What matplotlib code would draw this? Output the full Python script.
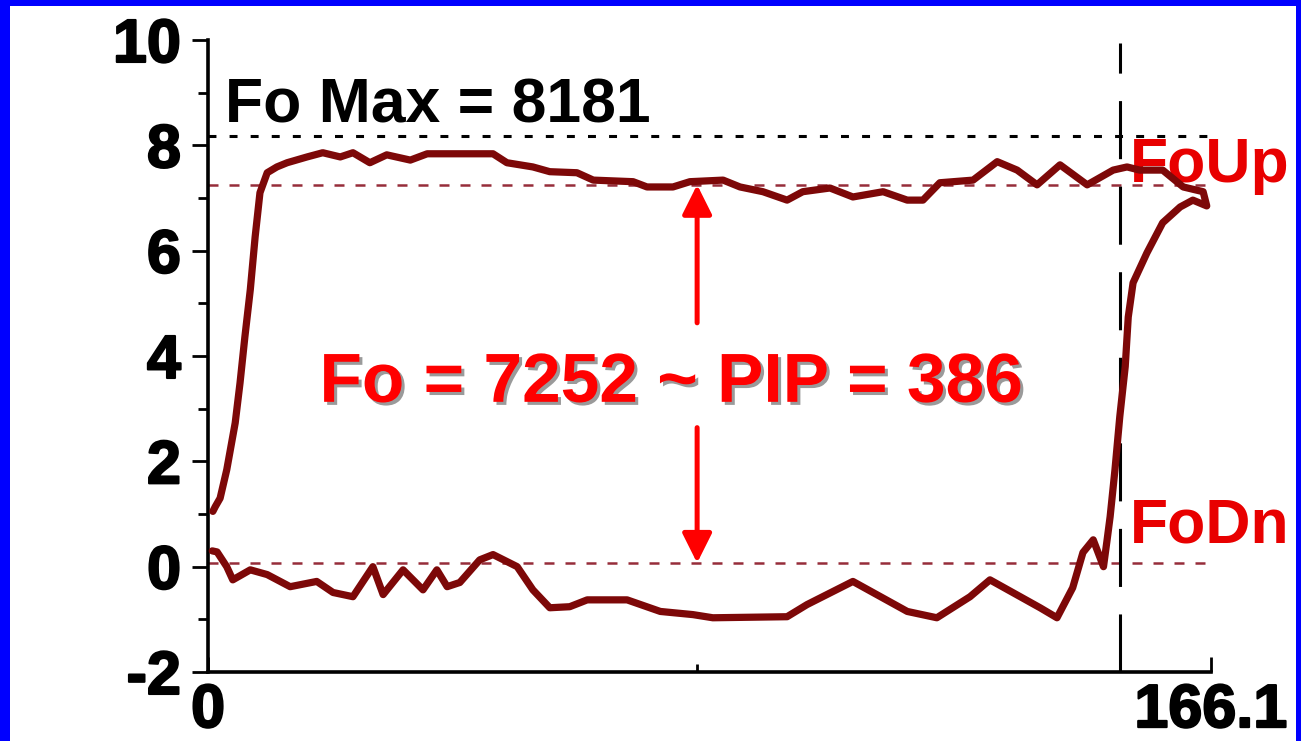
import matplotlib
matplotlib.use('Agg')
import matplotlib.pyplot as plt
import matplotlib.patheffects as pe
from matplotlib.patches import Rectangle

# Force/pressure loop, one cycle (x: time 0..166.1, y: force in thousands)
loop_x = [0.8, 1.2, 2.0, 3.1, 4.5, 5.3, 6.1, 7.0, 7.8, 8.6, 9.8, 11.4, 13.1, 16.4, 19.0,
          21.9, 24.0, 26.8, 29.6, 33.5, 36.3, 47.2, 49.5, 53.8, 56.6, 61.1, 63.8, 70.4,
          72.7, 77.0, 79.8, 85.3, 88.1, 91.9, 95.9, 98.5, 103.0, 106.8, 111.8, 115.8,
          118.4, 121.2, 126.7, 130.7, 134.0, 137.3, 141.1, 145.6, 149.9, 152.2, 154.3,
          158.1, 161.5, 164.8, 165.4, 163.1, 161.0, 158.1, 155.5, 153.2, 152.4, 151.9,
          151.0, 150.2, 149.4, 148.9, 148.3, 146.6, 144.9, 143.2, 140.6, 137.8, 129.5,
          126.2, 120.7, 115.8, 106.8, 99.2, 95.9, 83.6, 80.3, 74.9, 69.4, 62.8, 59.9,
          56.6, 53.8, 51.2, 47.2, 45.0, 41.7, 39.6, 37.9, 35.6, 32.3, 29.0, 27.3, 24.0,
          20.7, 18.0, 13.6, 9.8, 7.0, 4.1, 3.1, 1.5, 0.7]
loop_y = [1.05, 1.14, 1.30, 1.84, 2.73, 3.49, 4.36, 5.26, 6.26, 7.10, 7.48, 7.59, 7.67,
          7.78, 7.86, 7.78, 7.86, 7.67, 7.82, 7.72, 7.84, 7.84, 7.67, 7.59, 7.50, 7.48,
          7.34, 7.31, 7.21, 7.21, 7.31, 7.34, 7.21, 7.12, 6.96, 7.12, 7.19, 7.02, 7.12,
          6.96, 6.96, 7.29, 7.34, 7.69, 7.53, 7.25, 7.63, 7.25, 7.53, 7.59, 7.53, 7.53,
          7.21, 7.12, 6.85, 6.96, 6.83, 6.53, 5.96, 5.39, 4.74, 3.80, 2.85, 1.84, 0.95,
          0.51, 0.00, 0.51, 0.27, -0.40, -0.97, -0.78, -0.25, -0.57, -0.97, -0.85, -0.28,
          -0.72, -0.95, -0.97, -0.91, -0.85, -0.63, -0.63, -0.76, -0.78, -0.44, 0.00,
          0.23, 0.13, -0.30, -0.38, -0.06, -0.44, -0.06, -0.53, 0.00, -0.57, -0.49,
          -0.28, -0.38, -0.15, -0.06, -0.25, 0.00, 0.28, 0.30]

fo_max = 8.181
fo_up = 7.252
fo_dn = 0.07
t_end = 166.1
t_marker = 151.1
t_mid = 81.0

y_ticks = [-2, 0, 2, 4, 6, 8, 10]
y_minor = [-1, 1, 3, 5, 7, 9]
x_ticks = [0, t_end]
x_tick_labels = ['0', '166.1']

LOOP_COLOR = '#7d0808'
DASH_RED = '#962d3a'


def main():
    plt.rcParams['font.family'] = ['Liberation Sans', 'DejaVu Sans']
    plt.rcParams['font.weight'] = 'bold'

    fig = plt.figure(figsize=(13.01, 7.41), dpi=100)
    fig.patch.set_facecolor('white')
    ax = fig.add_axes([0.1599, 0.0931, 0.9308 - 0.1599, 0.946 - 0.0931])

    # blue frame around the picture
    W, H = 1301, 741
    for (x0, y0, w, h) in [(0, 0, 10, H), (0, H - 6, W, 6), (W - 5, 0, 5, H)]:
        fig.patches.append(Rectangle((x0 / W, y0 / H), w / W, h / H, transform=fig.transFigure,
                                     facecolor='#0000ff', edgecolor='none', zorder=10))

    # reference levels
    ax.plot([0, 165.5], [fo_max, fo_max], color='black', lw=2.2,
            linestyle=(0, (2.6, 4.3)), zorder=2)
    ax.plot([0, 165.7], [fo_up, fo_up], color=DASH_RED, lw=1.8,
            linestyle=(0, (4.0, 4.4)), zorder=2)
    ax.plot([0, 165.7], [fo_dn, fo_dn], color=DASH_RED, lw=1.8,
            linestyle=(0, (4.0, 4.4)), zorder=2)
    ax.plot([t_marker, t_marker], [-2, 9.95], color='black', lw=2.2,
            linestyle=(0, (19, 9)), zorder=2)

    ax.text(152.7, 7.31, 'FoUp', color='#e80000', fontsize=45, fontweight='bold',
            ha='left', va='baseline', zorder=3, clip_on=False)
    ax.text(152.7, 0.46, 'FoDn', color='#e80000', fontsize=45, fontweight='bold',
            ha='left', va='baseline', zorder=3, clip_on=False)

    ax.plot(loop_x, loop_y, color=LOOP_COLOR, lw=5.2, solid_joinstyle='round',
            solid_capstyle='round', zorder=4, clip_on=False)

    ax.text(2.8, 8.44, 'Fo Max = 8181', color='black', fontsize=45, fontweight='bold',
            ha='left', va='baseline', zorder=5)

    # split double arrow between FoDn and FoUp
    head = '-|>,head_length=0.6,head_width=0.3'
    ax.annotate('', xy=(t_mid, fo_up), xytext=(t_mid, 4.63),
                arrowprops=dict(arrowstyle=head, color='#ff0000', lw=3.6,
                                mutation_scale=30, shrinkA=0, shrinkB=0), zorder=5)
    ax.annotate('', xy=(t_mid, fo_dn), xytext=(t_mid, 2.64),
                arrowprops=dict(arrowstyle=head, color='#ff0000', lw=3.6,
                                mutation_scale=30, shrinkA=0, shrinkB=0), zorder=5)

    ax.text(76.7, 3.13, 'Fo = 7252 ~ PIP = 386', color='#ff0000', fontsize=50,
            fontweight='bold', ha='center', va='baseline', zorder=6,
            path_effects=[pe.SimplePatchShadow(offset=(2.2, -2.2), shadow_rgbFace='#9a9a9a',
                                               alpha=1.0),
                          pe.Normal()])

    ax.set_xlim(0, t_end)
    ax.set_ylim(-2, 10)

    for side in ('top', 'right'):
        ax.spines[side].set_visible(False)
    for side in ('left', 'bottom'):
        ax.spines[side].set_linewidth(2.6)

    ax.set_yticks(y_ticks)
    ax.set_yticks(y_minor, minor=True)
    ax.set_yticklabels([str(v) for v in y_ticks])
    ax.tick_params(axis='y', which='major', direction='out', length=11.5, width=2,
                   labelsize=44, pad=8)
    ax.tick_params(axis='y', which='minor', direction='out', length=7, width=2)

    ax.set_xticks(x_ticks)
    ax.set_xticks([t_mid], minor=True)
    ax.set_xticklabels(x_tick_labels)
    ax.tick_params(axis='x', which='major', direction='in', length=11, width=2,
                   labelsize=44, pad=8)
    ax.tick_params(axis='x', which='minor', direction='in', length=6, width=2)
    # heavier digits on the axes
    for lab in ax.get_xticklabels() + ax.get_yticklabels():
        lab.set_fontweight('bold')
        lab.set_path_effects([pe.withStroke(linewidth=1.5, foreground='black')])

    fig.savefig('out.png', dpi=100, facecolor='white')


if __name__ == '__main__':
    main()
